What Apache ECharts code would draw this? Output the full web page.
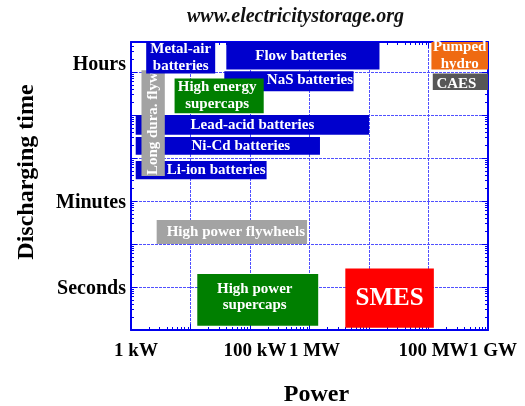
<!DOCTYPE html>
<html>
<head>
<meta charset="utf-8">
<script src="https://cdn.jsdelivr.net/npm/echarts@6/dist/echarts.min.js"></script>
<style>
  html, body { margin: 0; background: #fff; }
  #chart { width: 525px; height: 406px; }
</style>
</head>
<body>
<div id="chart"></div>
<script>
// storage technologies: power range (W) x discharge time range (s), log-log
const techNames = [
  'Lead-acid batteries', 'Ni-Cd batteries', 'Li-ion batteries', 'Long dura. flywheels',
  'Metal-air\nbatteries', 'Flow batteries', 'NaS batteries', 'High energy\nsupercaps',
  'High power flywheels', 'High power\nsupercaps', 'SMES', 'Pumped\nhydro', 'CAES',
];
const powerMin = [1.2e3, 1.2e3, 1.2e3, 1.5e3, 1.8e3, 4.0e4, 3.7e4, 5.4e3, 2.7e3, 1.3e4, 4.0e6, 1.12e8, 1.18e8];
const powerMax = [1.0e7, 1.5e6, 1.9e5, 3.7e3, 2.6e4, 1.5e7, 5.5e6, 1.7e5, 9.1e5, 1.4e6, 1.23e8, 1e9, 1e9];
const timeMin = [3.5e3, 1.2e3, 3.2e2, 3.8e2, 9.3e4, 1.15e5, 3.6e4, 1.1e4, 10, 0.126, 0.113, 1.15e5, 3.8e4];
const timeMax = [1.0e4, 3.1e3, 8.5e2, 1.1e5, 5e5, 5e5, 1.05e5, 7.1e4, 36, 2.0, 2.7, 5e5, 9.3e4];

// axis labels
const powerTicks = [1e3, 1e5, 1e6, 1e8, 1e9];
const powerTickLabels = ['1 kW', '100 kW', '1 MW', '100 MW', '1 GW'];
const timeTicks = [1, 100, 1e5];
const timeTickLabels = ['Seconds', 'Minutes', 'Hours'];

// box look (colour, label nudge in px)
const BLUE = '#0000cd', GREEN = '#007f00', GREY = '#a3a3a3';
const BOX_STYLE = [
  { color: BLUE }, { color: BLUE, dx: 13 }, { color: BLUE, dx: 15 },
  { color: GREY, vertical: true }, { color: BLUE }, { color: BLUE, dx: -2 },
  { color: BLUE, dx: 21, dy: -1 }, { color: GREEN, dx: -2 }, { color: GREY, dx: 4 },
  { color: GREEN, dx: -3, dy: -3 }, { color: '#ff0000', size: 25 }, { color: '#ef6a12' },
  { color: '#575757', dx: -4, dy: 2 },
];

const SERIF = '"Liberation Serif", "DejaVu Serif", serif';
const AXIS_BLUE = '#0000ee';

function labelFor(ticks, labels, v) {
  const e = Math.round(Math.log10(v));
  const k = ticks.findIndex((t) => Math.round(Math.log10(t)) === e);
  return k >= 0 ? labels[k] : '';
}

function renderBox(params, api) {
  const i = params.dataIndex;
  const st = BOX_STYLE[i];
  const tl = api.coord([api.value(0), api.value(3)]);
  const br = api.coord([api.value(1), api.value(2)]);
  const x = tl[0], y = tl[1], w = br[0] - tl[0], h = br[1] - tl[1];
  const children = [{ type: 'rect', shape: { x, y, width: w, height: h }, style: { fill: st.color } }];
  if (st.vertical) {
    children.push({
      type: 'text', x: x + w / 2, y: y + h - 1, rotation: Math.PI / 2,
      style: {
        text: techNames[i], fill: '#fff', fontFamily: SERIF, fontWeight: 'bold', fontSize: 15,
        align: 'left', verticalAlign: 'middle', width: h + 4, overflow: 'truncate', ellipsis: '',
      },
    });
  } else {
    children.push({
      type: 'text', x: x + w / 2 + (st.dx || 0), y: y + h / 2 + (st.dy || 0),
      style: {
        text: techNames[i], fill: '#fff', fontFamily: SERIF, fontWeight: 'bold',
        fontSize: st.size || 15, lineHeight: 16.5, align: 'center', verticalAlign: 'middle',
      },
    });
  }
  return { type: 'group', children };
}

const frameAxis = {
  axisLine: { show: true, onZero: false, lineStyle: { color: AXIS_BLUE, width: 2 } },
  axisTick: { show: true, inside: true, length: 6, lineStyle: { color: AXIS_BLUE } },
  minorTick: { show: true, splitNumber: 9, length: 3, lineStyle: { color: AXIS_BLUE } },
};

const chart = echarts.init(document.getElementById('chart'), null, { renderer: 'canvas' });
chart.setOption({
  animation: false,
  title: {
    text: 'www.electricitystorage.org', left: 187, top: 7, padding: 0,
    textStyle: { fontFamily: SERIF, fontStyle: 'italic', fontWeight: 'bold', fontSize: 20, color: '#111' },
  },
  grid: { left: 131, right: 37, top: 42, bottom: 76, containLabel: false, outerBoundsMode: 'none' },
  xAxis: [{
    type: 'log', logBase: 10, min: 1e3, max: 1e9, position: 'bottom',
    ...frameAxis,
    splitLine: { show: true, lineStyle: { color: '#5050ff', width: 1, type: [3, 1] } },
    axisLabel: {
      margin: 12, hideOverlap: false, showMinLabel: true, showMaxLabel: true,
      fontFamily: SERIF, fontWeight: 'bold', fontSize: 19, color: '#000', padding: [0, 0, 0, 10],
      formatter: (v) => labelFor(powerTicks, powerTickLabels, v),
    },
    name: 'Power', nameLocation: 'middle', nameGap: 53,
    nameTextStyle: { fontFamily: SERIF, fontWeight: 'bold', fontSize: 24, color: '#000', padding: [0, 0, 0, 14] },
  }, {
    type: 'log', logBase: 10, min: 1e3, max: 1e9, position: 'top',
    ...frameAxis, splitLine: { show: false }, axisLabel: { show: false },
  }],
  yAxis: [{
    type: 'log', logBase: 10, min: 0.1, max: 5e5, position: 'left',
    ...frameAxis,
    splitLine: { show: true, lineStyle: { color: '#5050ff', width: 1, type: [3, 1] } },
    axisLabel: {
      margin: 5, hideOverlap: false, showMinLabel: true, showMaxLabel: true,
      formatter: (v) => {
        const s = labelFor(timeTicks, timeTickLabels, v);
        if (!s) return '';
        return s === 'Hours' ? `{up|${s}}` : `{lo|${s}}`;
      },
      rich: {
        up: { fontFamily: SERIF, fontWeight: 'bold', fontSize: 20, color: '#000', padding: [0, 0, 14, 0] },
        lo: { fontFamily: SERIF, fontWeight: 'bold', fontSize: 20, color: '#000', padding: [4, 0, 0, 0] },
      },
    },
    name: 'Discharging time', nameLocation: 'middle', nameGap: 92,
    nameTextStyle: { fontFamily: SERIF, fontWeight: 'bold', fontSize: 24, color: '#000', padding: [0, 0, 0, 28] },
  }, {
    type: 'log', logBase: 10, min: 0.1, max: 5e5, position: 'right',
    ...frameAxis, splitLine: { show: false }, axisLabel: { show: false },
  }],
  series: [{
    type: 'custom',
    xAxisIndex: 0, yAxisIndex: 0,
    renderItem: renderBox,
    encode: { x: [0, 1], y: [2, 3] },
    data: techNames.map((_, i) => [powerMin[i], powerMax[i], timeMin[i], timeMax[i]]),
    z: 3,
  }],
});
</script>
</body>
</html>
